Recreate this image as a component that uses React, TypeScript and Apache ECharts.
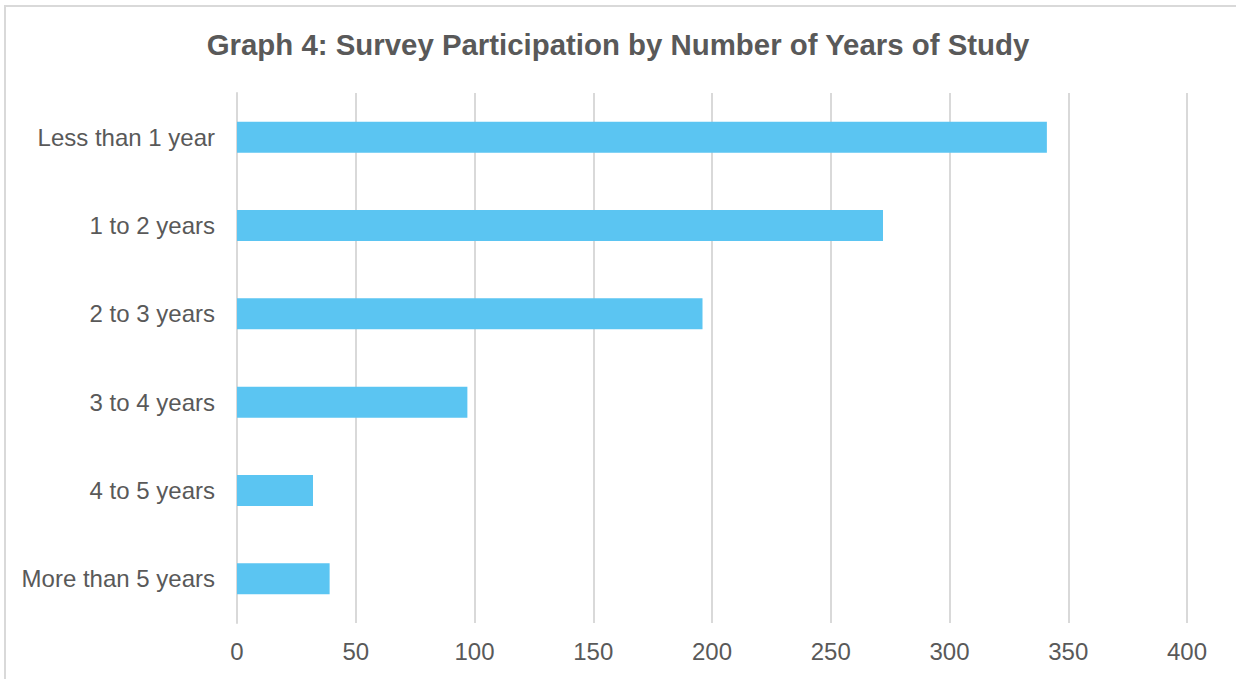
import React, { useEffect, useRef } from "react";
import * as echarts from "echarts";

const titleText = "Graph 4: Survey Participation by Number of Years of Study";
const categories = [
  "Less than 1 year",
  "1 to 2 years",
  "2 to 3 years",
  "3 to 4 years",
  "4 to 5 years",
  "More than 5 years",
];
const values = [341, 272, 196, 97, 32, 39];
const xMin = 0;
const xMax = 400;
const xInterval = 50;

export default function App() {
  const ref = useRef<HTMLDivElement>(null);
  useEffect(() => {
    if (!ref.current) return;
    const chart = echarts.init(ref.current, undefined, { renderer: "svg" });
    chart.setOption({
      animation: false,
      backgroundColor: "#ffffff",
      title: {
        text: titleText,
        left: "center",
        top: 25,
        textStyle: {
          fontFamily: "Liberation Sans, Arial, sans-serif",
          fontSize: 29.4,
          fontWeight: "bold",
          color: "#595959",
        },
      },
      graphic: [
        {
          type: "rect",
          shape: { x: 5, y: 6, width: 1240, height: 690 },
          style: { fill: "none", stroke: "#d9d9d9", lineWidth: 2 },
          silent: true,
        },
      ],
      grid: { left: 237, right: 49, top: 93, bottom: 56, containLabel: false },
      xAxis: {
        type: "value",
        min: xMin,
        max: xMax,
        interval: xInterval,
        axisLine: { show: false },
        axisTick: { show: false },
        axisLabel: {
          margin: 16,
          fontFamily: "Liberation Sans, Arial, sans-serif",
          fontSize: 24,
          color: "#595959",
        },
        splitLine: { show: true, lineStyle: { color: "#d9d9d9", width: 2 } },
      },
      yAxis: {
        type: "category",
        inverse: true,
        data: categories,
        axisLine: { show: true, lineStyle: { color: "#d9d9d9", width: 2 } },
        axisTick: { show: false },
        axisLabel: {
          margin: 22,
          fontFamily: "Liberation Sans, Arial, sans-serif",
          fontSize: 24,
          color: "#595959",
        },
      },
      series: [
        {
          type: "bar",
          data: values,
          barWidth: 31,
          itemStyle: { color: "#5bc5f2" },
        },
      ],
    });
    return () => chart.dispose();
  }, []);
  return (
    <div
      ref={ref}
      style={{ position: "absolute", left: 0, top: 0, width: 1236, height: 679 }}
    />
  );
}
